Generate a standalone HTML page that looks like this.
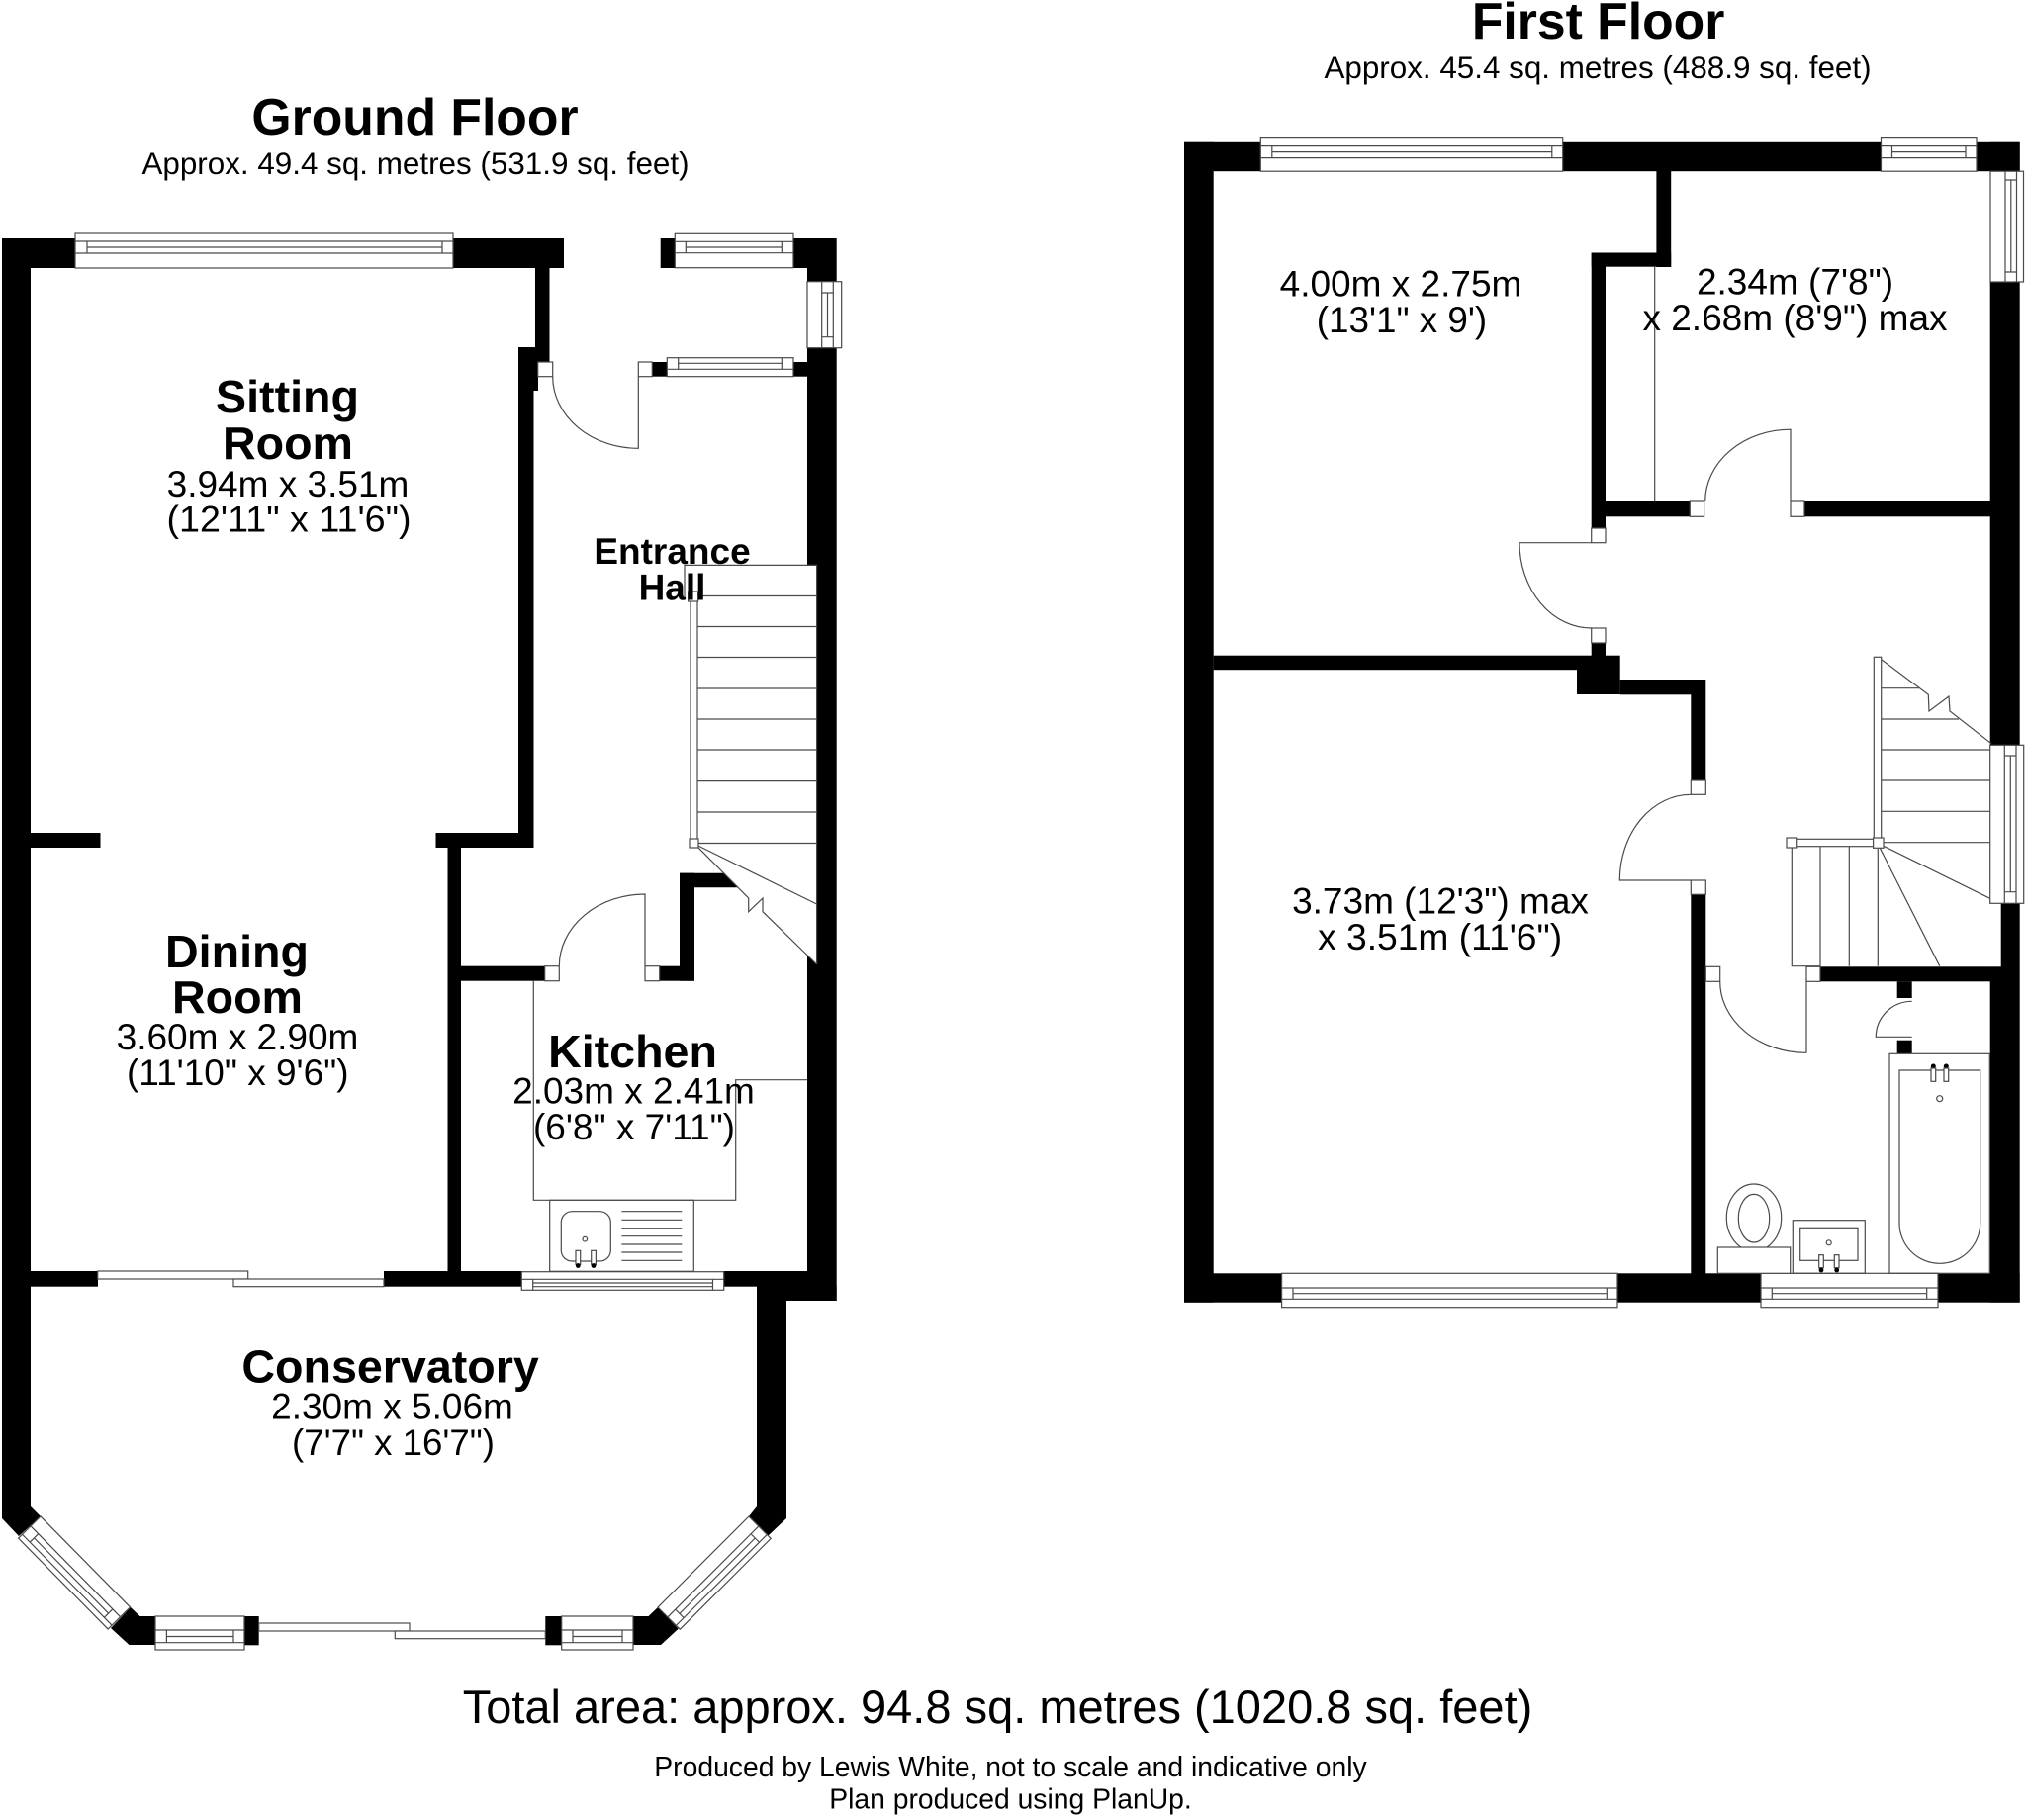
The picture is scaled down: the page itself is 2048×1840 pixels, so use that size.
<!DOCTYPE html>
<html><head><meta charset="utf-8"><title>Floor plan</title>
<style>
html,body{margin:0;padding:0;background:#fff}
svg{display:block}
.k{fill:#000;stroke:none}
.f{fill:#fff;stroke:#4a4a4a;stroke-width:1.2}
.l{fill:none;stroke:#4a4a4a;stroke-width:1.2}
text{font-family:"Liberation Sans",Arial,sans-serif;fill:#000;text-anchor:middle}
.b{font-weight:bold;font-size:46.6px}
.r{font-size:37px}
.t{font-weight:bold;font-size:51.7px}
.s{font-size:31.4px}
</style></head><body>
<svg width="2048" height="1840" viewBox="0 0 2048 1840" xmlns="http://www.w3.org/2000/svg">
<rect width="2048" height="1840" fill="#fff"/>

<!-- GROUND FLOOR WALLS -->
<g class="k">
<polygon points="2,241 31,241 31,1523 41,1533 19,1553 2,1535"/>
<rect x="2" y="241" width="568" height="30"/>
<rect x="541" y="271" width="14.5" height="95"/>
<rect x="524" y="351" width="15.5" height="506"/>
<rect x="524" y="351" width="20" height="44"/>
<rect x="440.5" y="842" width="99" height="15"/>
<rect x="452.5" y="857" width="13.5" height="428"/>
<rect x="466" y="976.7" width="85" height="15"/>
<rect x="31" y="842" width="70.5" height="15"/>
<rect x="667.7" y="241" width="14.6" height="30"/>
<rect x="802" y="241" width="43.7" height="30"/>
<rect x="816" y="271" width="29.7" height="14"/>
<rect x="816" y="351.7" width="29.7" height="963.3"/>
<rect x="802" y="366" width="14" height="14.7"/>
<rect x="659.3" y="366" width="15" height="14.7"/>
<rect x="31" y="1285" width="68" height="15.7"/>
<rect x="388" y="1285" width="140" height="15.7"/>
<rect x="731" y="1285" width="85" height="15.7"/>
<rect x="765" y="1300" width="80.7" height="15"/>
<polygon points="765,1300 795,1300 795,1535 776,1553 757,1533 765,1523"/>
<rect x="666.7" y="976.7" width="35.3" height="15"/>
<rect x="687" y="882.7" width="15" height="109"/>
<polygon points="687,882.7 731.7,882.7 746.7,897.3 687,897.3"/>
<polygon points="132,1625 141.5,1634 157,1634 157,1663 130.5,1663 112,1646"/>
<rect x="247" y="1634" width="14.7" height="29.3"/>
<rect x="551.3" y="1634" width="16.4" height="29.3"/>
<polygon points="640,1634 655.5,1634 665,1625 685.7,1646.7 668,1663 640,1663"/>
</g>

<!-- GROUND FLOOR WINDOWS -->
<g>
<rect class="f" x="76" y="236" width="382" height="35"/>
<path class="l" d="M76 244H458M76 256H458M88 244V256M447 244V256M88 250H447"/>
<rect class="f" x="682.3" y="236.3" width="119.7" height="34.4"/>
<path class="l" d="M682.3 244.3H802M682.3 255.7H802M693.3 244.3V255.7M790.3 244.3V255.7M693.3 250H790.3"/>
<rect class="f" x="674.3" y="361.7" width="127.7" height="19"/>
<path class="l" d="M674.3 373.3H802M685.7 361.7V373.3M790.3 361.7V373.3M685.7 367.3H790.3"/>
<rect class="f" x="816" y="284.7" width="34.7" height="67"/>
<path class="l" d="M830.7 284.7V351.7M842.3 284.7V351.7M830.7 296H842.3M830.7 340.7H842.3M836.5 296V340.7"/>
<rect class="f" x="527.3" y="1285.7" width="204.4" height="18.6"/>
<path class="l" d="M527.3 1293.3H731.7M538.7 1293.3V1304.3M720.5 1293.3V1304.3M538.7 1297H720.5M538.7 1300.7H720.5"/>
<rect class="f" x="98.7" y="1285" width="152" height="8"/>
<rect class="f" x="236" y="1293" width="152" height="7.7"/>
<rect class="f" x="157" y="1634" width="90" height="34"/>
<path class="l" d="M157 1648H247M157 1660.7H247M168.4 1648V1660.7M236 1648V1660.7M168.4 1654.5H236"/>
<rect class="f" x="567.7" y="1634" width="72.3" height="34"/>
<path class="l" d="M567.7 1648H640M567.7 1660.7H640M579 1648V1660.7M629 1648V1660.7M579 1654.5H629"/>
<rect class="f" x="261.7" y="1641" width="152.3" height="8"/>
<rect class="f" x="399.3" y="1649" width="152" height="7.7"/>
<g transform="translate(41,1533) rotate(45.4)">
<rect class="f" x="0" y="0" width="129" height="31.5"/>
<path class="l" d="M0 14H129M0 26H129M11 14V26M118 14V26M11 20H118"/>
</g>
<g transform="translate(665,1625) rotate(-45)">
<rect class="f" x="0" y="0" width="130" height="31.5"/>
<path class="l" d="M0 14H130M0 26H130M11 14V26M119 14V26M11 20H119"/>
</g>
</g>

<!-- GROUND FLOOR DOORS -->
<path class="l" d="M558.7 380.7A86.6 72.6 0 0 0 645.3 453.3V380.7"/>
<rect class="f" x="543.7" y="366" width="15" height="14.7"/>
<rect class="f" x="645.3" y="366" width="14" height="14.7"/>
<path class="l" d="M565.3 976.7A86.7 72.7 0 0 1 652 904V976.7"/>
<rect class="f" x="550.7" y="976.7" width="14.6" height="15"/>
<rect class="f" x="652" y="976.7" width="14.7" height="15"/>

<!-- GROUND FLOOR STAIRS -->
<polygon points="816,571.4 825.6,571.4 825.6,975 816,966" fill="#fff"/>
<path class="l" d="M692 603V571.4H825.6V914M698 602.5H825.6M705 633.5H825.6M705 664.5H825.6M705 696H825.6M705 727H825.6M705 758H825.6M705 789.6H825.6M705 821H825.6M705 852.5H825.6"/>
<polygon points="731.7,882.7 746.7,897.3 756.7,908 756.7,921.7 771,908 771,921.7 825.6,975 825.6,914 705.7,855" fill="#fff"/>
<path class="l" d="M705.7 855L825.6 914M705.7 856.7L756.7 908V921.7L771 908V921.7L825.6 975"/>
<path class="l" d="M825.6 914V975"/>
<rect class="f" x="698" y="603" width="7" height="246"/>
<rect class="f" x="695.6" y="598" width="10" height="10"/>
<rect class="f" x="697" y="848" width="9" height="9"/>

<!-- KITCHEN FITTINGS -->
<path class="l" d="M539.3 991.7V1213.3H743.7V1091.7H816"/>
<rect class="l" x="555.7" y="1213.3" width="145.6" height="72"/>
<rect class="l" x="567.3" y="1224.7" width="50" height="50.3" rx="11"/>
<circle class="l" cx="591.3" cy="1252.7" r="2.3"/>
<rect class="f" x="582" y="1264.3" width="4.7" height="14"/>
<rect class="f" x="597.7" y="1264.3" width="4.7" height="14"/>
<circle class="k" cx="584.3" cy="1279.5" r="2.4"/>
<circle class="k" cx="600" cy="1279.5" r="2.4"/>
<path class="l" d="M628.3 1224.7H689.3M628.3 1233.3H689.3M628.3 1241.7H689.3M628.3 1249.7H689.3M628.3 1258H689.3M628.3 1266H689.3M628.3 1274.3H689.3"/>

<!-- FIRST FLOOR WALLS -->
<g class="k">
<rect x="1197" y="143.8" width="29.7" height="1172.9"/>
<rect x="1197" y="143.8" width="844.7" height="29.4"/>
<rect x="1674.4" y="173" width="14.8" height="97"/>
<rect x="1608.7" y="255.5" width="80.5" height="14.2"/>
<rect x="1608.7" y="255.5" width="14.3" height="278.5"/>
<rect x="1623" y="507" width="85.3" height="15.3"/>
<rect x="1824" y="507" width="188" height="15.3"/>
<rect x="2011.7" y="143.8" width="30" height="1172.9"/>
<rect x="1226.7" y="662.7" width="411" height="14.5"/>
<rect x="1608.7" y="650" width="14.3" height="13"/>
<rect x="1594" y="677" width="43.7" height="25"/>
<rect x="1637.7" y="687" width="86.6" height="15.3"/>
<rect x="1709.3" y="702" width="15" height="87"/>
<rect x="1709.3" y="904.3" width="15" height="396"/>
<rect x="1840" y="977.3" width="172" height="15"/>
<rect x="1917.7" y="992.3" width="15" height="16.7"/>
<rect x="1917.7" y="1051.7" width="15" height="13.6"/>
<rect x="1197" y="1287.3" width="844.7" height="29.4"/>
</g>
<rect x="2011" y="913.3" width="11.7" height="64" fill="#fff"/>

<!-- FIRST FLOOR WINDOWS -->
<rect class="f" x="1274.3" y="139.6" width="305.4" height="33.6"/>
<path class="l" d="M1274.3 147.6H1579.7M1274.3 159.6H1579.7M1285.8 147.6V159.6M1568.8 147.6V159.6M1285.8 153.6H1568.8"/>
<rect class="f" x="1901.5" y="139.6" width="96.5" height="33.6"/>
<path class="l" d="M1901.5 147.6H1998M1901.5 159.6H1998M1912.5 147.6V159.6M1987 147.6V159.6M1912.5 153.6H1987"/>
<rect class="f" x="2012" y="173.2" width="33.5" height="111.8"/>
<path class="l" d="M2027 173.2V285M2038.5 173.2V285M2027 182H2038.5M2027 275H2038.5M2032.8 182V275"/>
<rect class="f" x="2011.7" y="753.3" width="34" height="160"/>
<path class="l" d="M2026.3 753.3V913.3M2038 753.3V913.3M2026.3 764H2038M2026.3 901.7H2038M2032.3 764V901.7"/>
<rect class="f" x="1295.6" y="1287.3" width="339.4" height="34.4"/>
<path class="l" d="M1295.6 1302H1635M1295.6 1313.3H1635M1307 1302V1313.3M1624.3 1302V1313.3M1307 1307.7H1624.3"/>
<rect class="f" x="1780" y="1287.3" width="179" height="34.4"/>
<path class="l" d="M1780 1302H1959M1780 1313.3H1959M1791.3 1302V1313.3M1947.7 1302V1313.3M1791.3 1307.7H1947.7"/>

<!-- FIRST FLOOR DOORS -->
<path class="l" d="M1672.7 270V507"/>
<path class="l" d="M1723.7 507A86.3 72.8 0 0 1 1810 434.2V507"/>
<rect class="f" x="1708.3" y="507" width="14.3" height="15.3"/>
<rect class="f" x="1810" y="507" width="14" height="15.3"/>
<path class="l" d="M1608.7 548.7H1536A72.7 86.3 0 0 0 1608.7 635"/>
<rect class="f" x="1608.7" y="534" width="14.3" height="14.7"/>
<rect class="f" x="1608.7" y="635" width="14.3" height="15"/>
<path class="l" d="M1709.3 890H1637.3A72 86.7 0 0 1 1709.3 803.3"/>
<rect class="f" x="1709.3" y="789" width="15" height="14.3"/>
<rect class="f" x="1709.3" y="890" width="15" height="14.3"/>
<path class="l" d="M1738.7 992.3A87.3 72 0 0 0 1826 1064.3V992.3"/>
<rect class="f" x="1724.3" y="977.3" width="14.4" height="15"/>
<rect class="f" x="1826" y="977.3" width="14" height="15"/>
<path class="l" d="M1932.7 1048.3H1896.3A36.4 36 0 0 1 1932.7 1012.3"/>

<!-- FIRST FLOOR STAIRS -->
<path class="l" d="M1901.7 695.7H1940M1901.7 727H1980M1901.7 758H2011.7M1901.7 789H2011.7M1901.7 820.3H2011.7M1901.7 851.7H2011.7"/>
<path class="l" d="M1901.7 666.7L1949.3 702.3L1950 719L1970 704L1971 719L2013 751.7"/>
<path class="l" d="M1811.3 857V976.7H1840M1840 855.7V976.7M1869.3 855.7V976.7M1898.3 855.7V976.7M1900 856.7L1960.7 976.7M1903.3 855L2011.7 908.3"/>
<rect class="f" x="1894.3" y="664.3" width="7.4" height="183"/>
<rect class="f" x="1816" y="848.3" width="78.3" height="7.4"/>
<rect class="f" x="1806" y="847" width="10.7" height="10"/>
<rect class="f" x="1893.6" y="847" width="10.4" height="10.3"/>

<!-- BATHROOM -->
<rect class="l" x="1910" y="1065.3" width="101.3" height="222"/>
<path class="l" d="M1920 1082H2001.7V1236.6A40.85 40.7 0 0 1 1920 1236.6Z"/>
<circle class="k" cx="1954.3" cy="1078" r="2.5"/>
<circle class="k" cx="1967.3" cy="1078" r="2.5"/>
<rect class="f" x="1952" y="1080" width="4.7" height="13.3"/>
<rect class="f" x="1965" y="1080" width="4.7" height="13.3"/>
<circle class="l" cx="1960.7" cy="1110.7" r="3"/>
<ellipse class="l" cx="1773" cy="1231" rx="27.7" ry="34"/>
<ellipse class="f" cx="1773" cy="1231.7" rx="15.7" ry="24.3"/>
<rect class="f" x="1736.3" y="1261" width="73.4" height="26.3"/>
<rect class="l" x="1812.3" y="1233.7" width="73" height="53.6"/>
<rect class="l" x="1819.7" y="1241.3" width="58.3" height="33"/>
<circle class="l" cx="1848.7" cy="1256.3" r="2.5"/>
<rect class="f" x="1838.7" y="1268.7" width="4.6" height="13"/>
<rect class="f" x="1854.3" y="1268.7" width="4.7" height="13"/>
<circle class="k" cx="1841" cy="1284" r="2.4"/>
<circle class="k" cx="1856.7" cy="1284" r="2.4"/>

<!-- TEXT -->
<text class="t" x="419.5" y="136">Ground Floor</text>
<text class="s" x="420" y="176">Approx. 49.4 sq. metres (531.9 sq. feet)</text>
<text class="t" x="1615.6" y="39">First Floor</text>
<text class="s" x="1615" y="79">Approx. 45.4 sq. metres (488.9 sq. feet)</text>

<text class="b" x="290.5" y="417">Sitting</text>
<text class="b" x="291" y="464">Room</text>
<text class="r" x="291" y="502">3.94m x 3.51m</text>
<text class="r" x="292" y="537.5" textLength="247" lengthAdjust="spacingAndGlyphs">(12'11" x 11'6")</text>

<text style="font-weight:bold;font-size:37px" x="679.5" y="570">Entrance</text>
<text style="font-weight:bold;font-size:37px" x="679.5" y="606.3">Hall</text>

<text class="b" x="239.5" y="978">Dining</text>
<text class="b" x="240" y="1024">Room</text>
<text class="r" x="240" y="1061">3.60m x 2.90m</text>
<text class="r" x="240.3" y="1097" textLength="224.6" lengthAdjust="spacingAndGlyphs">(11'10" x 9'6")</text>

<text class="b" x="639.5" y="1079">Kitchen</text>
<text class="r" x="640.5" y="1115.7">2.03m x 2.41m</text>
<text class="r" x="641" y="1152" textLength="204" lengthAdjust="spacingAndGlyphs">(6'8" x 7'11")</text>

<text class="b" x="394.6" y="1397.7">Conservatory</text>
<text class="r" x="396.5" y="1434.3">2.30m x 5.06m</text>
<text class="r" x="397.5" y="1471" textLength="205" lengthAdjust="spacingAndGlyphs">(7'7" x 16'7")</text>

<text class="r" x="1416" y="299.5">4.00m x 2.75m</text>
<text class="r" x="1417" y="336" textLength="172.4" lengthAdjust="spacingAndGlyphs">(13'1" x 9')</text>
<text class="r" x="1814.5" y="297.6">2.34m (7'8")</text>
<text class="r" x="1814.5" y="334">x 2.68m (8'9") max</text>
<text class="r" x="1456" y="923.5">3.73m (12'3") max</text>
<text class="r" x="1455.6" y="960" textLength="247" lengthAdjust="spacingAndGlyphs">x 3.51m (11'6")</text>

<text style="font-size:47px" x="1008.5" y="1742">Total area: approx. 94.8 sq. metres (1020.8 sq. feet)</text>
<text style="font-size:28.3px" x="1021.5" y="1796">Produced by Lewis White, not to scale and indicative only</text>
<text style="font-size:28.3px" x="1021.5" y="1828.5">Plan produced using PlanUp.</text>
</svg>
</body></html>
